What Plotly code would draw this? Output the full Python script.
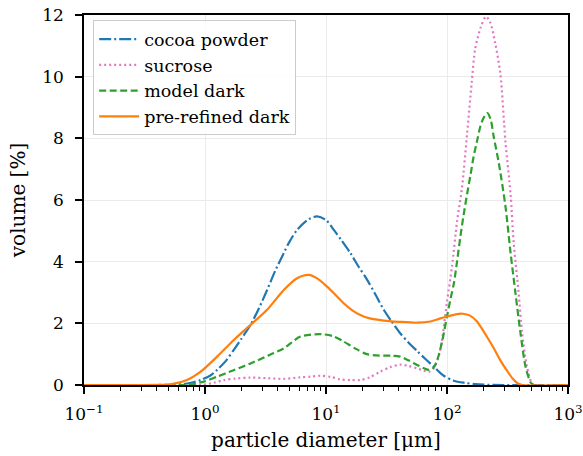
import plotly.graph_objects as go

# ---- data ----
cocoa_x = [0.1, 0.3, 0.5, 0.66, 0.8, 0.92, 1.1, 1.26, 1.5, 1.73, 2.0, 2.38, 2.8, 3.26, 3.8,
           4.48, 5.0, 5.77, 7.2, 8.46, 10.0, 11.6, 13.5, 15.9, 18.5, 21.9, 25.5, 30, 35, 41,
           48, 56.7, 66, 78, 94, 114, 140, 170, 220, 1000]
cocoa_y = [0, 0, 0.005, 0.03, 0.09, 0.16, 0.3, 0.49, 0.8, 1.14, 1.5, 1.95, 2.5, 3.08, 3.7,
           4.28, 4.65, 5.03, 5.38, 5.47, 5.35, 5.03, 4.68, 4.28, 3.85, 3.41, 2.95, 2.44, 2.05, 1.68,
           1.38, 1.1, 0.85, 0.59, 0.3, 0.14, 0.07, 0.03, 0.005, 0]

sucrose_x = [0.1, 0.5, 0.92, 1.2, 1.43, 1.8, 2.38, 3.3, 4.48, 6.15, 7.5, 9.0, 11, 13.1, 16,
             19.2, 23, 28, 34, 41, 48, 56.7, 64, 71, 78, 85, 91, 100, 110, 121, 133, 147, 160,
             171, 190, 210, 228, 250, 276, 304, 335, 356, 391, 416, 458, 504, 530, 1000]
sucrose_y = [0, 0, 0, 0.08, 0.16, 0.21, 0.24, 0.22, 0.2, 0.25, 0.27, 0.3, 0.26, 0.18, 0.16,
             0.16, 0.25, 0.43, 0.58, 0.66, 0.62, 0.54, 0.47, 0.43, 0.55, 0.9, 1.46, 2.7, 3.84, 5.3,
             6.4, 8.2, 9.8, 10.9, 11.6, 11.95, 11.75, 11.1, 10.1, 7.9, 6.2, 4.6, 2.98, 1.75, 0.59,
             0.05, 0, 0]

model_x = [0.1, 0.5, 0.71, 0.98, 1.26, 1.7, 2.38, 3.3, 4.48, 6.15, 9.0, 11.5, 14, 17.5, 21.9,
           26, 30, 35, 41, 48, 56.7, 64, 71, 77, 83, 91, 100, 107, 114, 121, 129, 137, 147, 157,
           166, 178, 189, 200, 216, 230, 243, 268, 304, 335, 368, 405, 446, 492, 520, 1000]
model_y = [0, 0, 0, 0.11, 0.27, 0.47, 0.7, 0.95, 1.19, 1.57, 1.65, 1.58, 1.41, 1.18, 1.0,
           0.96, 0.95, 0.95, 0.92, 0.8, 0.65, 0.55, 0.49, 0.55, 0.81, 1.4, 2.22, 2.8, 3.3, 4.0,
           4.81, 5.5, 6.22, 6.85, 7.41, 7.95, 8.4, 8.65, 8.82, 8.6, 8.06, 7.2, 5.8, 4.3, 2.98,
           1.68, 0.59, 0.08, 0, 0]

prerefined_x = [0.1, 0.3, 0.4, 0.52, 0.71, 0.92, 1.26, 1.73, 2.38, 3.26, 4.48, 5.77, 7.2, 8.5,
                10.2, 12, 14, 16.5, 19.2, 23, 30, 40, 56.7, 73, 88, 100, 121, 135, 155, 177,
                189, 215, 243, 276, 315, 350, 385, 420, 1000]
prerefined_y = [0, 0, 0.005, 0.02, 0.16, 0.43, 0.92, 1.46, 1.95, 2.44, 3.08, 3.46, 3.57, 3.45,
                3.19, 2.92, 2.65, 2.42, 2.27, 2.16, 2.09, 2.05, 2.02, 2.06, 2.16, 2.22, 2.3, 2.31,
                2.25, 2.06, 1.9, 1.55, 1.2, 0.8, 0.45, 0.2, 0.05, 0, 0]

series_names = ["cocoa powder", "sucrose", "model dark", "pre-refined dark"]
x_tick_vals = [0.1, 1, 10, 100, 1000]
x_tick_text = ["10<sup>\u22121</sup>", "10<sup>0</sup>", "10<sup>1</sup>", "10<sup>2</sup>", "10<sup>3</sup>"]
x_minor_vals = [m * d for d in [0.1, 1, 10, 100] for m in range(2, 10)]
y_tick_vals = [0, 2, 4, 6, 8, 10, 12]
x_title = "particle diameter [\u03bcm]"
y_title = "volume [%]"

FONT = "DejaVu Serif"

fig = go.Figure()
styles = [
    dict(color="#1f77b4", dash="12px,3px,2px,3px"),
    dict(color="#e377c2", dash="2px,3px"),
    dict(color="#2ca02c", dash="7px,3.5px"),
    dict(color="#ff7f0e", dash="solid"),
]
for name, xs, ys, st in zip(series_names,
                            [cocoa_x, sucrose_x, model_x, prerefined_x],
                            [cocoa_y, sucrose_y, model_y, prerefined_y],
                            styles):
    fig.add_trace(go.Scatter(x=xs, y=ys, name=name, mode="lines",
                             line=dict(color=st["color"], dash=st["dash"], width=2.2,
                                       shape="spline", smoothing=0.8)))

fig.update_layout(
    width=583, height=456,
    margin=dict(l=84, r=15, t=15, b=71, autoexpand=False),
    paper_bgcolor="white", plot_bgcolor="white",
    font=dict(family=FONT, size=16, color="black"),
    showlegend=True,
    legend=dict(x=0.019, y=0.986, xanchor="left", yanchor="top",
                bgcolor="rgba(255,255,255,0.85)", bordercolor="#cccccc", borderwidth=1,
                font=dict(family=FONT, size=17.5), itemwidth=40, tracegroupgap=0),
)
fig.update_xaxes(
    type="log", range=[-1, 3], automargin=False,
    tickmode="array", tickvals=x_tick_vals, ticktext=x_tick_text,
    ticks="outside", ticklen=7, tickwidth=1.5, tickcolor="black",
    showline=True, linecolor="black", linewidth=1.5, mirror=True,
    showgrid=True, gridcolor="#ebebeb", gridwidth=1, zeroline=False,
    tickfont=dict(family=FONT, size=17), ticklabelstandoff=6,
    minor=dict(tickmode="array", tickvals=x_minor_vals, ticks="outside", ticklen=4,
               tickwidth=1, tickcolor="black", showgrid=False),
    title=dict(text=x_title, font=dict(family=FONT, size=20), standoff=10),
)
fig.update_yaxes(
    range=[0, 12], tickmode="array", tickvals=y_tick_vals, automargin=False,
    ticks="outside", ticklen=7, tickwidth=1.5, tickcolor="black",
    showline=True, linecolor="black", linewidth=1.5, mirror=True,
    showgrid=True, gridcolor="#ebebeb", gridwidth=1, zeroline=False,
    tickfont=dict(family=FONT, size=17), ticklabelstandoff=8,
    title=dict(text=y_title, font=dict(family=FONT, size=20), standoff=11),
)

fig.write_html("out.html", config={"displayModeBar": False},
               post_script="document.body.style.margin='0';")
